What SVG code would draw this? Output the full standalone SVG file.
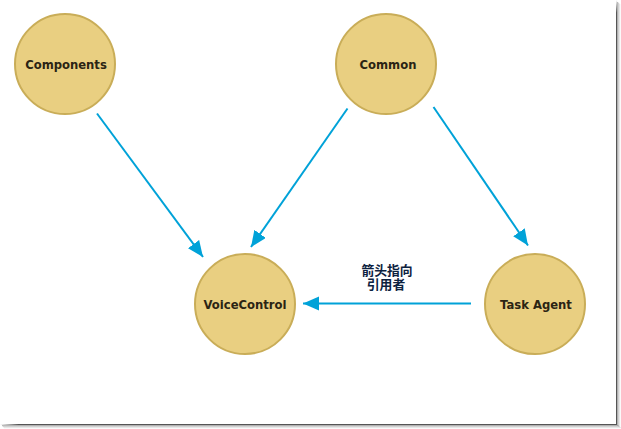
<svg xmlns="http://www.w3.org/2000/svg" width="621" height="429" viewBox="0 0 621 429">
<style>
.node circle{fill:#e9cf81;stroke:#c9ad58;stroke-width:2}
.node text{font-family:"DejaVu Sans","Liberation Sans",sans-serif;font-weight:bold;font-size:11.6px;fill:#2b2414;text-anchor:middle}
.edge{stroke:#00a2d8;stroke-width:2;fill:none;marker-end:url(#ah)}
.lbl{font-family:"DejaVu Sans","Noto Sans CJK SC",sans-serif;font-weight:bold;font-size:12.8px;fill:#0d2240;text-anchor:middle}
</style>
<defs>
<marker id="ah" markerUnits="userSpaceOnUse" markerWidth="17" markerHeight="15" refX="16" refY="7" orient="auto">
<path d="M0,0 L16,7 L0,14 Z" fill="#00a2d8"/>
</marker>
<linearGradient id="gb" x1="0" y1="0" x2="1" y2="0">
<stop offset="0" stop-color="#fff"/><stop offset="0.03" stop-color="#555"/><stop offset="1" stop-color="#555"/>
</linearGradient>
<linearGradient id="gr" x1="0" y1="0" x2="0" y2="1">
<stop offset="0" stop-color="#fff"/><stop offset="0.03" stop-color="#555"/><stop offset="1" stop-color="#555"/>
</linearGradient>
</defs>
<rect width="621" height="429" fill="#fff"/>
<g id="frame">
<rect x="0" y="424" width="617" height="1.2" fill="url(#gb)"/>
<rect x="2" y="425.2" width="617" height="1" fill="#999" opacity="0.8"/>
<rect x="3" y="426.2" width="617" height="1" fill="#bbb" opacity="0.7"/>
<rect x="4" y="427.2" width="617" height="1" fill="#ddd" opacity="0.7"/>
<rect x="616" y="0" width="1.2" height="425" fill="url(#gr)"/>
<rect x="617.2" y="2" width="1" height="424" fill="#999" opacity="0.8"/>
<rect x="618.2" y="3" width="1" height="424" fill="#bbb" opacity="0.7"/>
<rect x="619.2" y="4" width="1" height="424" fill="#ddd" opacity="0.7"/>
</g>
<g id="connectors">
<line class="edge" x1="97" y1="113.5" x2="203" y2="257"/>
<line class="edge" x1="347.5" y1="108.5" x2="251" y2="247"/>
<line class="edge" x1="433.5" y1="107" x2="528" y2="245.5"/>
<line class="edge" x1="471" y1="303.5" x2="303" y2="303.5"/>
<text class="lbl" x="387" y="275">箭头指向</text>
<text class="lbl" x="386" y="288.5">引用者</text>
</g>
<g id="components" class="node"><circle cx="65" cy="64" r="50"/><text x="66" y="68.5">Components</text></g>
<g id="common" class="node"><circle cx="386" cy="64" r="50"/><text x="388" y="68.5">Common</text></g>
<g id="voicecontrol" class="node"><circle cx="245" cy="304" r="50"/><text x="245" y="308.5">VoiceControl</text></g>
<g id="taskagent" class="node"><circle cx="535" cy="304" r="50"/><text x="536" y="308.5">Task Agent</text></g>
</svg>
